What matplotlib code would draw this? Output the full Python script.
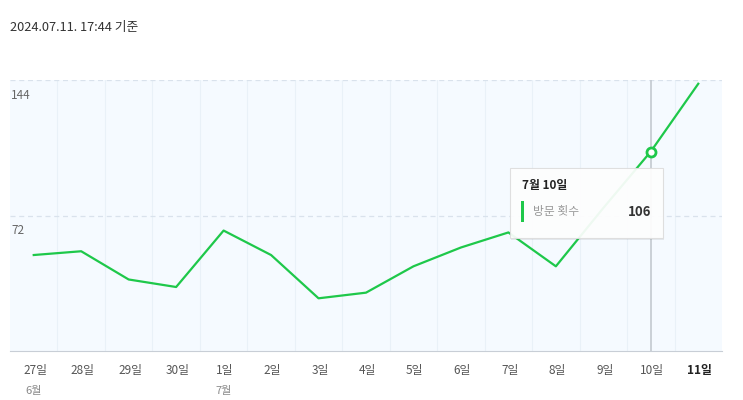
import matplotlib.pyplot as plt
from matplotlib.patches import Rectangle

plt.rcParams['font.family'] = ['Noto Sans CJK KR', 'DejaVu Sans']

# data
days = ['27일', '28일', '29일', '30일', '1일', '2일', '3일', '4일',
        '5일', '6일', '7일', '8일', '9일', '10일', '11일']
months = {0: '6월', 4: '7월'}
visits = [51, 53, 38, 34, 64, 51, 28, 31, 45, 55, 63, 45, 76, 106, 142]
yticks = [72, 144]
hover = 13
title = '2024.07.11. 17:44 기준'

green = '#1ec84a'

fig = plt.figure(figsize=(7.43, 4), dpi=100)
ax = fig.add_axes([10 / 743, 1 - 351 / 400, 712 / 743, 271 / 400])
ax.set_facecolor('#f5faff')

x = list(range(len(days)))
ax.set_xlim(-0.5, len(days) - 0.5)
ax.set_ylim(0, 144)

# grid
for i in range(1, len(days)):
    ax.axvline(i - 0.5, color='#e9f1f8', lw=0.8, zorder=0)
for v in yticks:
    ax.axhline(v, color='#d9e2ec', lw=0.9, ls=(0, (4, 3)), zorder=1)
    ax.annotate(str(v), (0, v), xycoords=ax.get_yaxis_transform(),
                xytext=(1, -11), textcoords='offset points',
                ha='left', va='center', fontsize=8.5, color='#666666')

# hover line
ax.axvline(hover, color='#c3c9d0', lw=1.2, zorder=2)

ax.plot(x, visits, color=green, lw=1.6, zorder=3)
ax.plot(hover, visits[hover], 'o', ms=6.5, mfc='white', mec=green, mew=2, zorder=5)

for s in ['top', 'left', 'right']:
    ax.spines[s].set_visible(False)
ax.spines['bottom'].set_color('#c8ced6')
ax.tick_params(left=False, bottom=False, labelleft=False, labelbottom=False)

# x labels
for i, d in enumerate(days):
    last = i == len(days) - 1
    ax.annotate(d, (i, 0), xytext=(1, -14), textcoords='offset points',
                ha='center', va='center', fontsize=8.5,
                color='#222222' if last else '#555555',
                fontweight='bold' if last else 'normal')
for i, m in months.items():
    ax.annotate(m, (i, 0), xytext=(0, -29), textcoords='offset points',
                ha='center', va='center', fontsize=8, color='#888888')

# title
fig.text(10 / 743, 1 - 27 / 400, title, ha='left', va='center', fontsize=9.2, color='#333333')

# tooltip
tx, ty, tw, th = 510, 168, 153, 70
fig.patches.append(Rectangle(((tx + 1) / 743, 1 - (ty + th + 2) / 400), tw / 743, th / 400,
                             transform=fig.transFigure, facecolor='#00000012', edgecolor='none', zorder=8))
fig.patches.append(Rectangle((tx / 743, 1 - (ty + th) / 400), tw / 743, th / 400,
                             transform=fig.transFigure, facecolor='white', alpha=0.93,
                             edgecolor='#dddddd', lw=0.8, zorder=9))
fig.patches.append(Rectangle((521 / 743, 1 - 222 / 400), 3 / 743, 21 / 400,
                             transform=fig.transFigure, facecolor=green, edgecolor='none', zorder=10))
fig.text(522 / 743, 1 - 185 / 400, '7월 10일', ha='left', va='center', fontsize=8.5,
         fontweight='bold', color='#222222', zorder=11)
fig.text(533 / 743, 1 - 212 / 400, '방문 횟수', ha='left', va='center', fontsize=8.5,
         color='#999999', zorder=11)
fig.text(651 / 743, 1 - 212 / 400, str(visits[hover]), ha='right', va='center', fontsize=9.5,
         fontweight='bold', color='#333333', zorder=11)

fig.savefig('out.png', dpi=100)
